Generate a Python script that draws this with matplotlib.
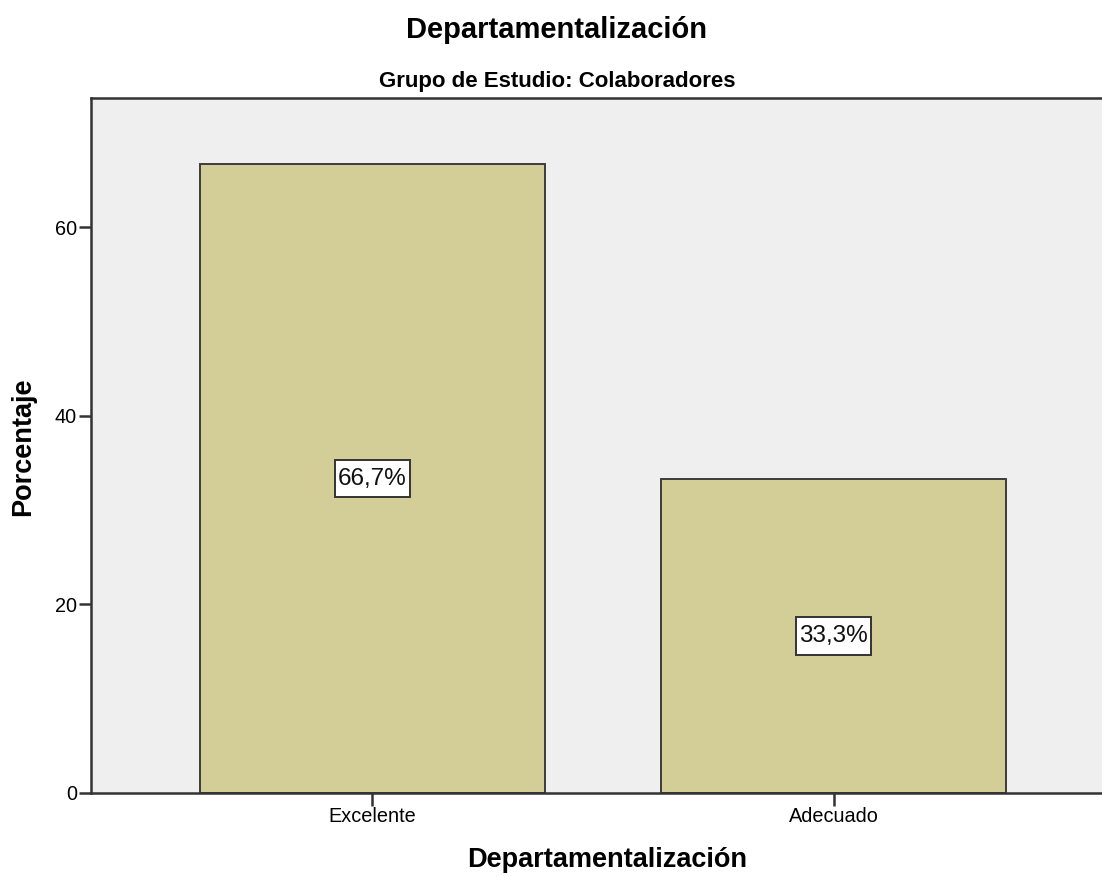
import matplotlib
matplotlib.use("Agg")
import matplotlib.pyplot as plt

categories = ["Excelente", "Adecuado"]
percentages = [66.7, 33.3]
value_labels = ["66,7%", "33,3%"]
y_ticks = [0, 20, 40, 60]

plt.rcParams['font.family'] = ['Liberation Sans', 'DejaVu Sans']

W, H = 1102, 877
fig = plt.figure(figsize=(W / 100, H / 100), dpi=100)
fig.patch.set_facecolor("white")

left, right, top, bottom = 91, 1115, 98, 793
ax = fig.add_axes([left / W, 1 - bottom / H, (right - left) / W, (bottom - top) / H])
ax.set_facecolor("#EFEFEF")

x = list(range(len(categories)))
ax.bar(x, percentages, width=0.748, color="#D3CE98", edgecolor="#3C3C3C", linewidth=1.4, zorder=2)

for xi, v, lab in zip(x, percentages, value_labels):
    ax.text(xi, v / 2, lab, ha="center", va="center", fontsize=17.5, color="#111111", zorder=3,
            bbox=dict(boxstyle="square,pad=0.13", mutation_aspect=2.5,
                      facecolor="white", edgecolor="#333333", linewidth=1.4))

ax.set_xlim(-0.61, 1.61)
ax.set_ylim(0, 73.7)
ax.set_xticks(x)
ax.set_xticklabels(categories, fontsize=14.3)
ax.set_yticks(y_ticks)
ax.set_yticklabels([str(t) for t in y_ticks], fontsize=14.3)
ax.tick_params(axis="both", length=9, width=1.8, color="#333333", pad=1)

for side in ["top", "left", "bottom"]:
    ax.spines[side].set_linewidth(1.8)
    ax.spines[side].set_color("#333333")
ax.spines["right"].set_visible(False)

ax.set_ylabel("Porcentaje", fontsize=19.5, fontweight="bold", va="center")
ax.yaxis.set_label_coords(-0.0664, 0.498)
ax.set_xlabel("Departamentalización", fontsize=19.5, fontweight="bold", va="center")
ax.xaxis.set_label_coords(0.504, -0.0964)

fig.text(557 / W, 1 - 30 / H, "Departamentalización", ha="center", va="center",
         fontsize=21, fontweight="bold")
fig.text(557 / W, 1 - 81 / H, "Grupo de Estudio: Colaboradores", ha="center", va="center",
         fontsize=16, fontweight="bold")

fig.savefig("out.png", dpi=100)
